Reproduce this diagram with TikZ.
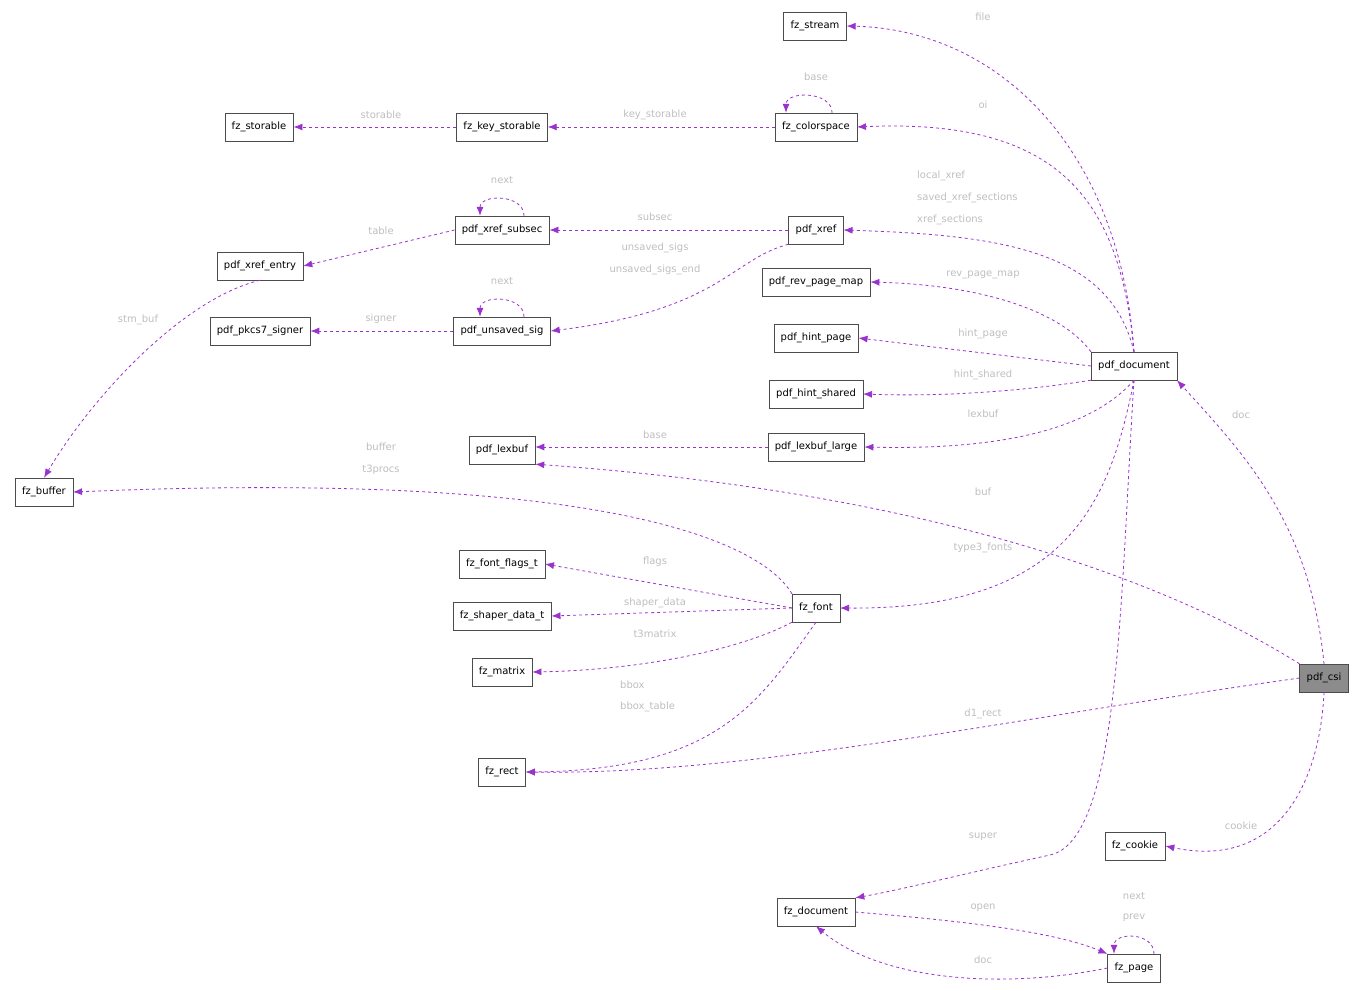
\documentclass[tikz,border=0pt]{standalone}
\usepackage{fontspec}
\setmainfont{DejaVu Sans}
\usetikzlibrary{arrows.meta}
\begin{document}
\begin{tikzpicture}[x=1pt,y=-1pt,
 box/.style={draw=black!70,fill=white,font=\fontsize{10}{12}\selectfont,minimum height=28pt,inner xsep=7pt,inner ysep=0pt},
 e/.style={draw={rgb,255:red,154;green,50;blue,205},dashed,line width=0.8pt,-{Latex[length=9pt,width=7pt]}},
 lb/.style={text={rgb,255:red,190;green,190;blue,190},font=\fontsize{10}{12}\selectfont,inner sep=0pt}]
\useasboundingbox (0,0) rectangle (1364,990);
\node[box] (stream) at (815,26) {fz\_stream};
\node[box] (storable) at (259,127) {fz\_storable};
\node[box] (keyst) at (502,127) {fz\_key\_storable};
\node[box] (cs) at (816,127) {fz\_colorspace};
\node[box] (subsec) at (502,230) {pdf\_xref\_subsec};
\node[box] (xref) at (816,230) {pdf\_xref};
\node[box] (entry) at (260,266) {pdf\_xref\_entry};
\node[box] (rev) at (816,282) {pdf\_rev\_page\_map};
\node[box] (pkcs) at (260,331) {pdf\_pkcs7\_signer};
\node[box] (usig) at (502,331) {pdf\_unsaved\_sig};
\node[box] (hpage) at (816,338) {pdf\_hint\_page};
\node[box] (doc) at (1134,366) {pdf\_document};
\node[box] (hshared) at (816,394) {pdf\_hint\_shared};
\node[box] (lex) at (502,450) {pdf\_lexbuf};
\node[box] (lexl) at (816,447) {pdf\_lexbuf\_large};
\node[box] (buf) at (44,492) {fz\_buffer};
\node[box] (flags) at (502,564) {fz\_font\_flags\_t};
\node[box] (font) at (816,608) {fz\_font};
\node[box] (shaper) at (502,616) {fz\_shaper\_data\_t};
\node[box] (mat) at (502,672) {fz\_matrix};
\node[box,fill=black!45] (csi) at (1324,678) {pdf\_csi};
\node[box] (rect) at (502,772) {fz\_rect};
\node[box] (cookie) at (1135,846) {fz\_cookie};
\node[box] (fzdoc) at (816,912) {fz\_document};
\node[box] (page) at (1134,968) {fz\_page};

\draw[e] (doc.north) .. controls (1120,150) and (1000,30) .. (stream.east);
\node[lb] at (983,17) {file};
\draw[e] (doc.north) .. controls (1120,200) and (1060,118) .. (cs.east);
\node[lb] at (983,105) {oi};
\draw[e] (cs.north east) ++(-25,0) .. controls +(0,-22) and +(0,-22) .. ([xshift=-30pt]cs.north);
\node[lb] at (816,77) {base};
\draw[e] (cs) -- (keyst); \node[lb] at (655,115) {key\_storable};
\draw[e] (keyst) -- (storable); \node[lb] at (381,115) {storable};
\draw[e] (xref) -- (subsec); \node[lb] at (655,217) {subsec};
\draw[e] ([xshift=22pt]subsec.north) .. controls +(0,-22) and +(0,-22) .. ([xshift=-22pt]subsec.north);
\node[lb] at (502,180) {next};
\draw[e] (subsec.west) -- (entry.east); \node[lb] at (381,231) {table};
\draw[e] (entry.south) .. controls (180,300) and (90,400) .. (buf.north);
\node[lb] at (138,320) {stm\_buf};
\draw[e] (doc.north) .. controls (1110,250) and (1000,235) .. (xref.east);
\node[lb,anchor=west] at (917,176) {local\_xref};
\node[lb,anchor=west] at (917,198) {saved\_xref\_sections};
\node[lb,anchor=west] at (917,220) {xref\_sections};
\draw[e] (xref.south west) .. controls (730,260) and (720,310) .. (usig.east);
\node[lb] at (655,248) {unsaved\_sigs};
\node[lb] at (655,270) {unsaved\_sigs\_end};
\draw[e] ([xshift=22pt]usig.north) .. controls +(0,-22) and +(0,-22) .. ([xshift=-22pt]usig.north);
\node[lb] at (502,281) {next};
\draw[e] (usig) -- (pkcs); \node[lb] at (381,319) {signer};
\draw[e] (doc.north west) .. controls (1060,310) and (980,285) .. (rev.east);
\node[lb] at (983,275) {rev\_page\_map};
\draw[e] (doc.west) -- (hpage.east); \node[lb] at (983,334) {hint\_page};
\draw[e] (doc.south west) .. controls (1030,390) and (950,397) .. (hshared.east);
\node[lb] at (983,375) {hint\_shared};
\draw[e] (doc.south) .. controls (1090,430) and (1000,450) .. (lexl.east);
\node[lb] at (983,414) {lexbuf};
\draw[e] (lexl) -- (lex.east |- lexl); \node[lb] at (655,435) {base};
\draw[e] (csi.north west) .. controls (1150,570) and (900,490) .. (lex.south east);
\node[lb] at (983,492) {buf};
\draw[e] (font.north west) .. controls (760,540) and (600,470) .. (buf.east);
\node[lb] at (381,447) {buffer};
\node[lb] at (381,470) {t3procs};
\draw[e] (doc.south) .. controls (1110,500) and (1070,610) .. (font.east);
\node[lb] at (983,548) {type3\_fonts};
\draw[e] (font.west) -- (flags.east); \node[lb] at (655,562) {flags};
\draw[e] (font.west) -- (shaper.east); \node[lb] at (655,603) {shaper\_data};
\draw[e] (font.south west) .. controls (740,650) and (640,670) .. (mat.east);
\node[lb] at (655,634) {t3matrix};
\draw[e] (font.south) .. controls (760,700) and (720,770) .. (rect.east);
\node[lb,anchor=west] at (620,685) {bbox};
\node[lb,anchor=west] at (620,707) {bbox\_table};
\draw[e] (csi.west) .. controls (1000,720) and (750,775) .. (rect.east);
\node[lb] at (983,714) {d1\_rect};
\draw[e] (csi.north) .. controls (1310,520) and (1240,450) .. (doc.south east);
\node[lb] at (1241,415) {doc};
\draw[e] (csi.south) .. controls (1320,780) and (1280,870) .. (cookie.east);
\node[lb] at (1241,826) {cookie};
\draw[e] (doc.south) .. controls (1120,600) and (1120,840) .. (1050,855) .. controls (980,870) and (900,890) .. (fzdoc.north east);
\node[lb] at (983,837) {super};
\draw[e] (fzdoc.east) .. controls (950,920) and (1050,930) .. (page.north west);
\node[lb] at (983,908) {open};
\draw[e] (page.west) .. controls (1000,990) and (880,980) .. (fzdoc.south);
\node[lb] at (983,960) {doc};
\draw[e] ([xshift=20pt]page.north) .. controls +(0,-22) and +(0,-22) .. ([xshift=-20pt]page.north);
\node[lb] at (1134,896) {next};
\node[lb] at (1134,918) {prev};
\end{tikzpicture}
\end{document}
